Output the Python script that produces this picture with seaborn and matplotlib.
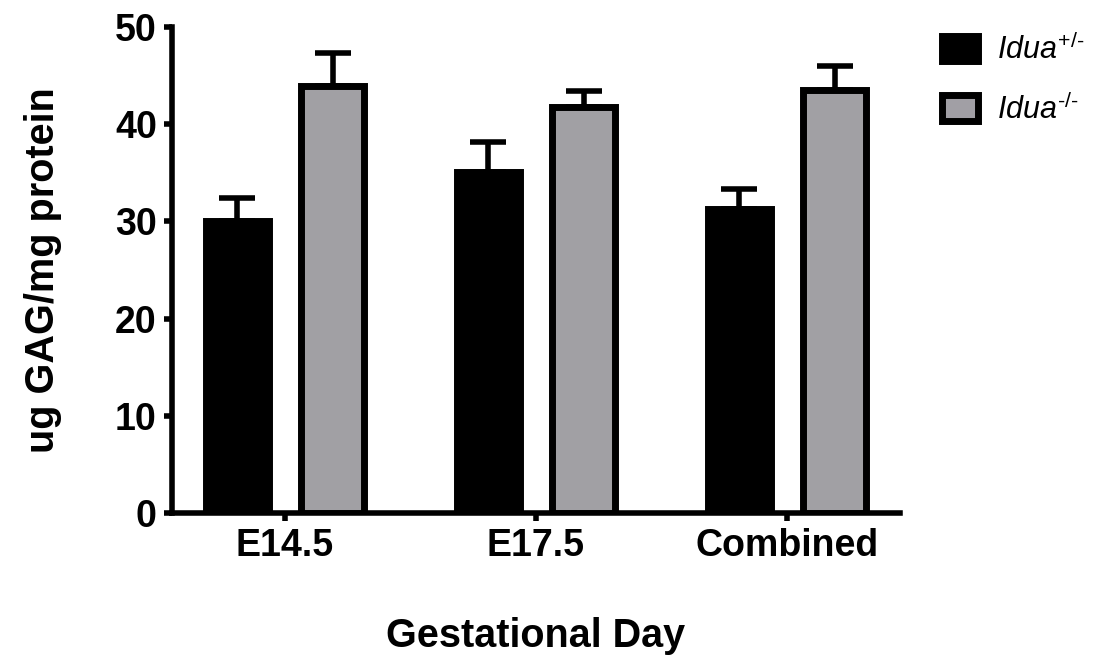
import pandas as pd
import numpy as np
import seaborn as sns
import matplotlib.pyplot as plt
from matplotlib.patches import Patch

# 데이터
days = ['E14.5', 'E17.5', 'Combined']
het_mean = [30.0, 35.1, 31.3]
het_err = [2.4, 3.1, 2.0]
ko_mean = [44.0, 41.8, 43.5]
ko_err = [3.3, 1.6, 2.5]
groups = ['Idua+/-', 'Idua-/-']
colors = ['black', '#A19FA5']

df = pd.DataFrame({
    'day': days * 2,
    'value': het_mean + ko_mean,
    'err': het_err + ko_err,
    'group': [groups[0]] * 3 + [groups[1]] * 3,
})

sns.set_style('white')
plt.rcParams['font.family'] = ['Liberation Sans', 'DejaVu Sans']
plt.rcParams['mathtext.fontset'] = 'custom'
plt.rcParams['mathtext.rm'] = 'Liberation Sans'
plt.rcParams['mathtext.it'] = 'Liberation Sans:italic'
plt.rcParams['text.color'] = 'black'
plt.rcParams['axes.labelcolor'] = 'black'
plt.rcParams['xtick.color'] = 'black'
plt.rcParams['ytick.color'] = 'black'

fig = plt.figure(figsize=(10.96, 6.65), dpi=100)
ax = fig.add_axes([0.157, 0.229, 0.664, 0.730])

sns.barplot(data=df, x='day', y='value', hue='group', palette=colors,
            width=0.76, gap=0.34, edgecolor='black', linewidth=5,
            errorbar=None, legend=False, ax=ax, zorder=3)

# 에러바 (위쪽만)
errs = het_err + ko_err
vals = het_mean + ko_mean
bars = [p for p in ax.patches if p.get_height() > 0][:6]
for p, v, e in zip(bars, vals, errs):
    xc = p.get_x() + p.get_width() / 2
    ax.errorbar(xc, v, yerr=[[0], [e]], fmt='none', ecolor='black',
                elinewidth=4, capsize=13, capthick=4, zorder=2)

ax.set_ylim(0, 50)
ax.set_xlim(-0.45, 2.45)
ax.set_yticks([0, 10, 20, 30, 40, 50])
for s in ['top', 'right']:
    ax.spines[s].set_visible(False)
for s in ['left', 'bottom']:
    ax.spines[s].set_linewidth(4)
    ax.spines[s].set_color('black')
ax.tick_params(axis='both', direction='out', length=6, width=4, color='black',
               labelsize=27, pad=5, labelcolor='black')
ax.tick_params(left=True, bottom=True)
for lab in ax.get_xticklabels() + ax.get_yticklabels():
    lab.set_fontweight('bold')

ax.set_xlabel('Gestational Day', fontsize=28.5, fontweight='bold', labelpad=38)
ax.set_ylabel('ug GAG/mg protein', fontsize=28.5, fontweight='bold', labelpad=38)

handles = [Patch(facecolor=colors[0], edgecolor='black', linewidth=5),
           Patch(facecolor=colors[1], edgecolor='black', linewidth=5)]
labels = ['$\\mathit{Idua}^{\\mathit{+/\u2010}}$', '$\\mathit{Idua}^{\\mathit{\u2010/\u2010}}$']
fig.legend(handles, labels, loc='upper left', bbox_to_anchor=(0.834, 0.99),
           frameon=False, fontsize=22, handlelength=1.2, handleheight=0.9,
           labelspacing=0.9, handletextpad=0.6)

fig.savefig('out.png', dpi=100)
